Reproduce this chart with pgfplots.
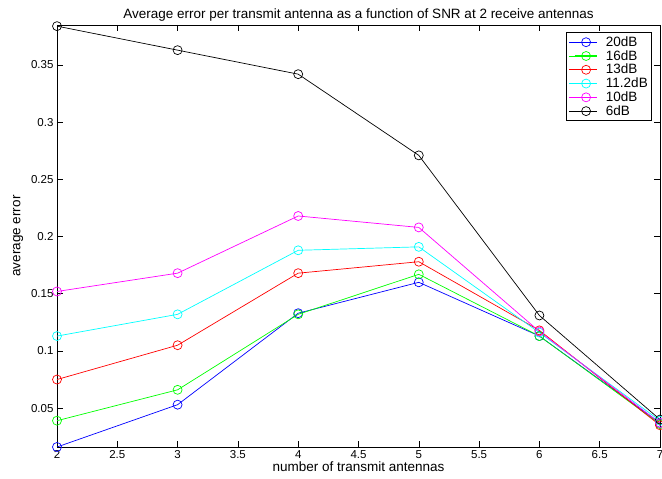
\documentclass[border=0pt]{standalone}
\usepackage{fontspec}
\setmainfont{Liberation Sans}
\usepackage{pgfplots}
\pgfplotsset{compat=1.18}
\definecolor{mcyan}{rgb}{0,1,1}
\definecolor{mmagenta}{rgb}{1,0,1}

\begin{document}
\begin{tikzpicture}
\path[use as bounding box] (-57pt,-32pt) rectangle (605pt,447pt);
\begin{axis}[
    scale only axis,
    width=603pt, height=422pt,
    xmin=2, xmax=7, ymin=0.016, ymax=0.385,
    xtick={2,2.5,...,7},
    ytick={0.05,0.1,...,0.35},
    yticklabel style={/pgf/number format/fixed, /pgf/number format/precision=2},
    xticklabel style={/pgf/number format/fixed},
    /pgf/number format/assume math mode=true,
    tick align=inside,
    major tick length=6pt,
    tick style={black, line width=0.6pt},
    axis line style={line width=0.8pt},
    every tick label/.append style={font=\fontsize{11.5}{13}\selectfont},
    title={Average error per transmit antenna as a function of SNR at 2 receive antennas},
    title style={font=\fontsize{13.5}{15}\selectfont, yshift=-6pt},
    xlabel={number of transmit antennas},
    ylabel={average error},
    label style={font=\fontsize{13.5}{15}\selectfont},
    xlabel style={yshift=4pt},
    ylabel style={yshift=1pt},
    legend style={at={(0.987,0.983)}, anchor=north east, font=\fontsize{13.5}{15}\selectfont,
        draw=black, line width=0.8pt, row sep=-1.5pt, inner sep=2pt, column sep=6pt},
    legend cell align=left,
    legend image code/.code={
        \path (-0.2cm,0cm) -- (0.8cm,0cm);
        \draw[#1, line width=1pt] (0cm,0cm) -- (0.8cm,0cm);
        \draw[#1] plot[mark=o] coordinates {(0.4cm,0cm)};
    },
    every axis plot/.append style={line width=0.7pt, mark=o, mark size=4.5pt, mark options={line width=0.7pt}},
]
\addplot[blue] coordinates {(2,0.016) (3,0.053) (4,0.133) (5,0.160) (6,0.113) (7,0.037)};
\addplot[green] coordinates {(2,0.039) (3,0.066) (4,0.132) (5,0.167) (6,0.113) (7,0.036)};
\addplot[red] coordinates {(2,0.075) (3,0.105) (4,0.168) (5,0.178) (6,0.118) (7,0.035)};
\addplot[mcyan] coordinates {(2,0.113) (3,0.132) (4,0.188) (5,0.191) (6,0.116) (7,0.039)};
\addplot[mmagenta] coordinates {(2,0.152) (3,0.168) (4,0.218) (5,0.208) (6,0.117) (7,0.037)};
\addplot[black] coordinates {(2,0.384) (3,0.363) (4,0.342) (5,0.271) (6,0.131) (7,0.040)};
\legend{20dB,16dB,13dB,11.2dB,10dB,6dB}
\end{axis}
\end{tikzpicture}
\end{document}
